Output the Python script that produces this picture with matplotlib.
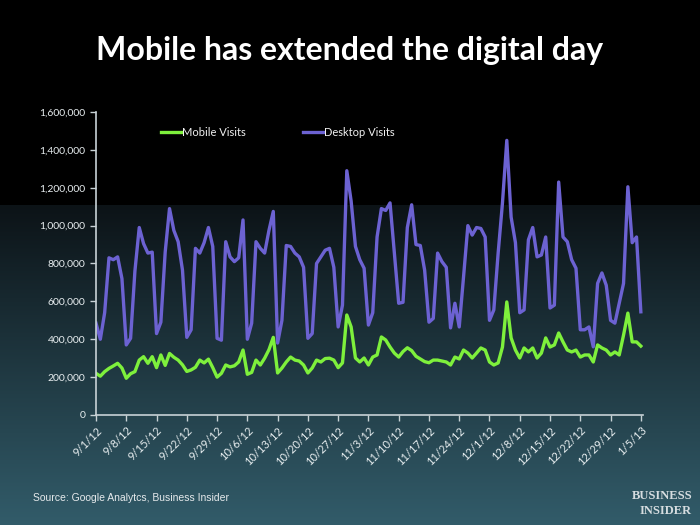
import matplotlib
matplotlib.use('Agg')
import matplotlib.pyplot as plt
import numpy as np
import datetime as dt

plt.rcParams['font.family'] = ['Lato', 'DejaVu Sans']

# daily visits, 9/1/12 .. 1/5/13 (thousands)
desktop = [485, 400, 540, 830, 820, 835, 720,
           370, 405, 760, 990, 905, 855, 860,
           430, 490, 860, 1090, 975, 915, 765,
           410, 450, 880, 855, 910, 990, 890,
           405, 395, 915, 835, 810, 830, 1030,
           400, 485, 915, 880, 855, 975, 1075,
           380, 500, 895, 890, 855, 835, 780,
           405, 430, 800, 835, 870, 880, 780,
           465, 580, 1290, 1130, 890, 820, 775,
           475, 540, 940, 1090, 1080, 1120, 855,
           590, 595, 990, 1110, 900, 895, 765,
           490, 510, 855, 810, 780, 460, 590,
           465, 730, 1000, 950, 990, 985, 940,
           500, 555, 855, 1120, 1450, 1045, 910,
           540, 555, 925, 990, 835, 845, 940,
           565, 580, 1230, 940, 915, 820, 775,
           450, 450, 465, 360, 695, 750, 685,
           500, 485, 590, 695, 1205, 910, 940,
           545]
mobile = [220, 205, 229, 246, 259, 273, 248,
          194, 218, 229, 290, 308, 273, 308,
          250, 317, 262, 325, 305, 290, 265,
          230, 238, 252, 290, 275, 295, 250,
          200, 220, 264, 254, 260, 280, 343,
          215, 225, 290, 264, 300, 345, 410,
          222, 248, 280, 306, 290, 285, 264,
          222, 248, 290, 280, 298, 300, 290,
          250, 275, 528, 465, 301, 280, 301,
          264, 306, 317, 412, 396, 359, 327,
          306, 335, 355, 340, 310, 296, 282,
          276, 290, 290, 285, 280, 264, 306,
          296, 343, 327, 301, 327, 354, 343,
          280, 264, 275, 359, 597, 407, 343,
          301, 354, 333, 354, 301, 327, 407,
          359, 370, 433, 386, 343, 333, 343,
          306, 317, 317, 280, 370, 354, 343,
          317, 333, 317, 422, 538, 386, 386,
          364]
start = dt.date(2012, 9, 1)
days = np.arange(len(desktop))
dates = [start + dt.timedelta(days=int(d)) for d in days]
tick_labels = [f"{d.month}/{d.day}/{d.year % 100}" for d in dates[::7]]
yticks = np.arange(0, 1600001, 200000)

fig = plt.figure(figsize=(7, 5.25), dpi=100)

# background gradient
bg = fig.add_axes([0, 0, 1, 1])
rows = 525
grad = np.zeros((rows, 1, 3))
top = np.array([12, 19, 23]) / 255
bot = np.array([50, 92, 106]) / 255
for r in range(rows):
    if r < 205:
        grad[r, 0] = 0
    else:
        t = (r - 205) / (rows - 205)
        grad[r, 0] = top + (bot - top) * t
bg.imshow(grad, aspect='auto', extent=[0, 1, 0, 1])
bg.axis('off')

ax = fig.add_axes([96 / 700, 110 / 525, 547 / 700, 303 / 525])
ax.set_facecolor('none')
ax.plot(days, np.array(mobile) * 1000, color='#7ef03c', lw=2.4, label='Mobile Visits')
ax.plot(days, np.array(desktop) * 1000, color='#6c62d2', lw=2.4, label='Desktop Visits')

ax.set_xlim(0, 126.5)
ax.set_ylim(0, 1600000)
ax.set_yticks(yticks)
ax.set_yticklabels(['0'] + [f"{v:,}" for v in yticks[1:]])
ax.set_xticks(days[::7])
ax.set_xticklabels(tick_labels, rotation=45, ha='right', rotation_mode='anchor')

for side in ['top', 'right']:
    ax.spines[side].set_visible(False)
for side in ['left', 'bottom']:
    ax.spines[side].set_color('#c8d2d6')
    ax.spines[side].set_linewidth(1.2)
ax.tick_params(colors='#c8d2d6', labelcolor='#e8eef0', labelsize=7.5, length=4, width=1)
ax.tick_params(axis='x', pad=3, labelsize=8)

leg = ax.legend(loc='upper left', bbox_to_anchor=(0.1, 0.985), ncol=2, frameon=False,
                fontsize=8, handlelength=1.8, handletextpad=0.1, columnspacing=5.2)
for t in leg.get_texts():
    t.set_color('#f0f0f0')

fig.text(0.5, 0.903, 'Mobile has extended the digital day', color='white', fontsize=23,
         fontweight='bold', ha='center', va='center')
fig.text(33 / 700, 1 - 498 / 525, 'Source: Google Analytcs, Business Insider', color='#e6eaec',
         fontsize=7.5, family=['Liberation Sans', 'DejaVu Sans'], va='center')
fig.text(692 / 700, 1 - 496 / 525, 'BUSINESS', color='#d6dde0', fontsize=9, fontweight='bold',
         family=['Liberation Serif', 'DejaVu Serif'], ha='right', va='center')
fig.text(692 / 700, 1 - 511 / 525, 'INSIDER', color='#d6dde0', fontsize=9, fontweight='bold',
         family=['Liberation Serif', 'DejaVu Serif'], ha='right', va='center')

fig.savefig('out.png', dpi=100)
